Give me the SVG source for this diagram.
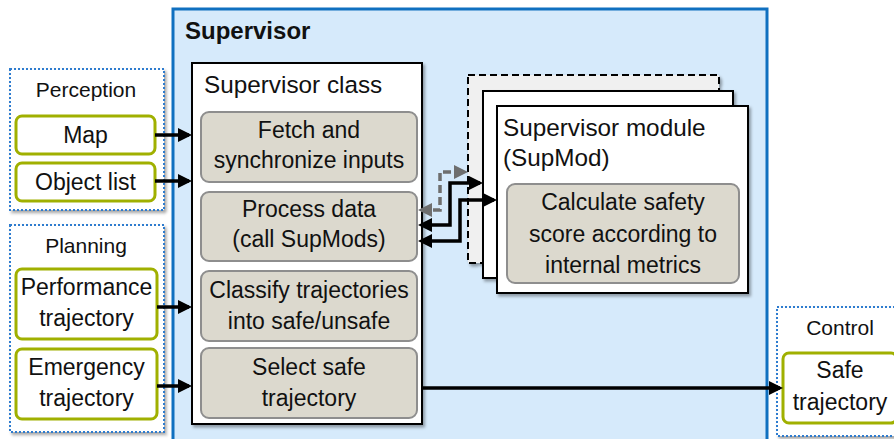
<svg xmlns="http://www.w3.org/2000/svg" width="894" height="439" viewBox="0 0 894 439">
  <defs>
    <filter id="shadow" x="-10%" y="-10%" width="125%" height="125%">
      <feDropShadow dx="2" dy="2.5" stdDeviation="1.5" flood-color="#000" flood-opacity="0.35"/>
    </filter>
    <marker id="arrow" markerUnits="userSpaceOnUse" markerWidth="14" markerHeight="14" refX="11" refY="7" orient="auto-start-reverse">
      <path d="M0,0 L14,7 L0,14 Z" fill="#000"/>
    </marker>
    <marker id="arrow-gray" markerUnits="userSpaceOnUse" markerWidth="14" markerHeight="14" refX="11" refY="7" orient="auto-start-reverse">
      <path d="M0,0 L14,7 L0,14 Z" fill="#6E6E6E"/>
    </marker>
  </defs>
  <style>
    text { font-family: "Liberation Sans", Arial, sans-serif; fill: #111; }
    .title { font-size: 24px; font-weight: bold; }
    .lbl { font-size: 23px; }
    .head { font-size: 24.3px; }
    .grp { font-size: 21px; text-anchor: middle; }
    .mid { text-anchor: middle; }
    .group { fill: #fff; stroke: #2E7BCF; stroke-width: 2; stroke-dasharray: 2 2; }
    .io { fill: #fff; stroke: #A0B000; stroke-width: 3; }
    .step { fill: #DCD9CE; stroke: #8E8E8E; stroke-width: 2; }
    .frame { fill: #fff; stroke: #000; stroke-width: 2; }
    .link { fill: none; stroke: #000; stroke-width: 3.5; marker-end: url(#arrow); }
    .both { marker-start: url(#arrow); }
    .link-gray { fill: none; stroke: #6E6E6E; stroke-width: 3.5; stroke-dasharray: 8 4; marker-start: url(#arrow-gray); marker-end: url(#arrow-gray); }
  </style>

  <!-- Supervisor container -->
  <g id="supervisor">
    <rect x="173" y="9" width="594" height="440" fill="#D6EAFB" stroke="#1070C0" stroke-width="3"/>
    <text class="title" x="185" y="39">Supervisor</text>
  </g>

  <!-- Perception inputs -->
  <g id="perception">
    <rect class="group" x="10" y="69" width="154" height="141" filter="url(#shadow)"/>
    <text class="grp" x="86" y="97">Perception</text>
  </g>
  <g id="map">
    <rect class="io" x="16" y="116" width="139" height="38" rx="6"/>
    <text class="lbl mid" x="85.5" y="143">Map</text>
  </g>
  <g id="object-list">
    <rect class="io" x="16" y="163" width="139" height="38" rx="6"/>
    <text class="lbl mid" x="85.5" y="190">Object list</text>
  </g>

  <!-- Planning inputs -->
  <g id="planning">
    <rect class="group" x="10" y="225" width="154" height="207" filter="url(#shadow)"/>
    <text class="grp" x="86" y="253">Planning</text>
  </g>
  <g id="performance-trajectory">
    <rect class="io" x="16" y="269" width="141" height="70" rx="6"/>
    <text class="lbl mid" x="86.5" y="295">Performance</text>
    <text class="lbl mid" x="86.5" y="326">trajectory</text>
  </g>
  <g id="emergency-trajectory">
    <rect class="io" x="16" y="349" width="141" height="70" rx="6"/>
    <text class="lbl mid" x="86.5" y="375">Emergency</text>
    <text class="lbl mid" x="86.5" y="406">trajectory</text>
  </g>

  <!-- Control output -->
  <g id="control">
    <rect class="group" x="777" y="307" width="125" height="129" filter="url(#shadow)"/>
    <text class="grp" x="840" y="335">Control</text>
  </g>
  <g id="safe-trajectory">
    <rect class="io" x="783" y="353" width="114" height="70" rx="6"/>
    <text class="lbl mid" x="840" y="378">Safe</text>
    <text class="lbl mid" x="840" y="410">trajectory</text>
  </g>

  <!-- Supervisor class with its processing steps -->
  <g id="supervisor-class">
    <rect class="frame" x="192" y="63" width="230" height="361" filter="url(#shadow)"/>
    <text class="head" x="204" y="93">Supervisor class</text>
  </g>
  <g id="fetch-inputs">
    <rect class="step" x="201" y="112" width="216" height="70" rx="8"/>
    <text class="lbl mid" x="309" y="138">Fetch and</text>
    <text class="lbl mid" x="309" y="168">synchronize inputs</text>
  </g>
  <g id="process-data">
    <rect class="step" x="201" y="192" width="216" height="69" rx="8"/>
    <text class="lbl mid" x="309" y="217">Process data</text>
    <text class="lbl mid" x="309" y="247">(call SupMods)</text>
  </g>
  <g id="classify-trajectories">
    <rect class="step" x="201" y="271" width="216" height="70" rx="8"/>
    <text class="lbl mid" x="309" y="298">Classify trajectories</text>
    <text class="lbl mid" x="309" y="329">into safe/unsafe</text>
  </g>
  <g id="select-safe">
    <rect class="step" x="201" y="348" width="216" height="70" rx="8"/>
    <text class="lbl mid" x="309" y="375">Select safe</text>
    <text class="lbl mid" x="309" y="406">trajectory</text>
  </g>

  <!-- Stack of supervisor modules -->
  <g id="supmod-optional">
    <rect x="468" y="75" width="251" height="188" fill="#F0F0F0" stroke="#000" stroke-width="2" stroke-dasharray="7 4" filter="url(#shadow)"/>
  </g>
  <g id="supmod-2">
    <rect class="frame" x="483" y="91" width="250" height="187" filter="url(#shadow)"/>
  </g>
  <g id="supmod-1">
    <rect class="frame" x="497" y="106" width="251" height="187" filter="url(#shadow)"/>
    <text class="head" x="503" y="136">Supervisor module</text>
    <text class="head" x="503" y="166">(SupMod)</text>
  </g>
  <g id="safety-score">
    <rect class="step" x="507" y="184" width="232" height="99" rx="8"/>
    <text class="lbl mid" x="623" y="210">Calculate safety</text>
    <text class="lbl mid" x="623" y="242">score according to</text>
    <text class="lbl mid" x="623" y="273">internal metrics</text>
  </g>

  <!-- Connectors -->
  <g id="connectors">
    <path class="link" d="M155 135 H189"/>
    <path class="link" d="M155 181 H189"/>
    <path class="link" d="M157 307 H189"/>
    <path class="link" d="M157 386 H189"/>
    <path class="link" d="M422 388 H780"/>
    <path class="link-gray" d="M421 210 H440 V172 H465"/>
    <path class="link both" d="M421 225 H450 V183 H480"/>
    <path class="link both" d="M421 241 H460 V200 H494"/>
  </g>
</svg>
